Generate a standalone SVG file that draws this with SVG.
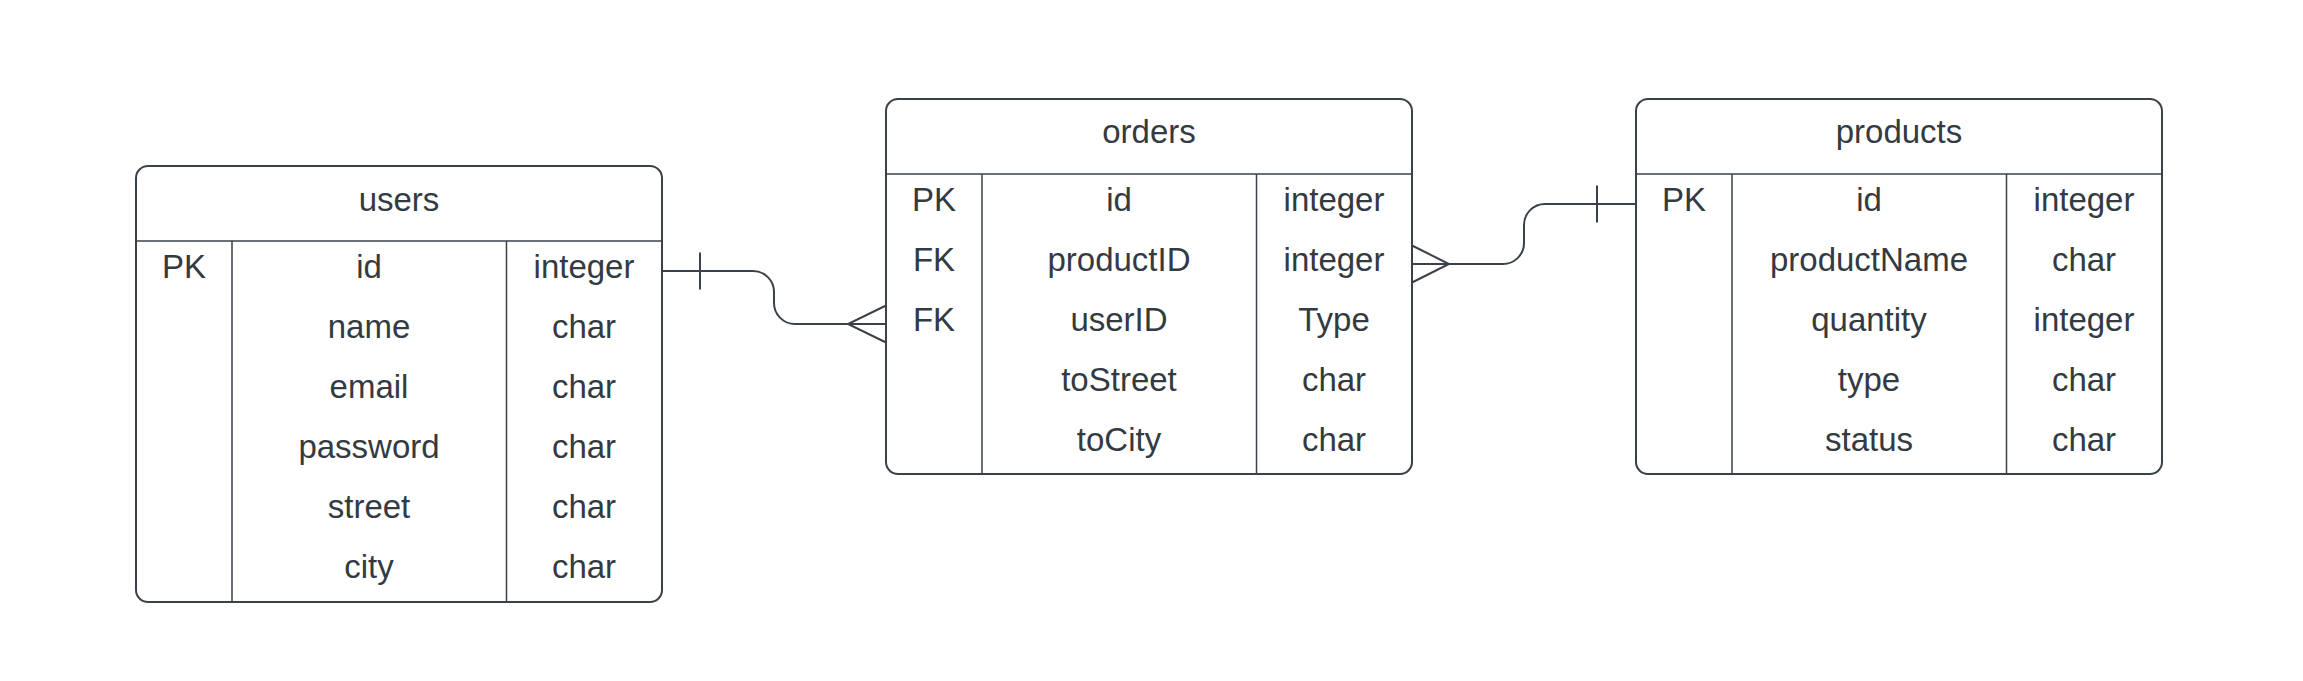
<svg xmlns="http://www.w3.org/2000/svg" width="2303" height="681" viewBox="0 0 2303 681">
<style>
.box{fill:#ffffff;stroke:#3a414a;stroke-width:2}
.div{stroke:#3a414a;stroke-width:1.5;fill:none}
.t{font-family:"Liberation Sans",Arial,sans-serif;font-size:33px;fill:#333a42;text-anchor:middle}
.c{stroke:#3a414a;stroke-width:2;fill:none}
</style>
<rect width="2303" height="681" fill="#ffffff"/>
<g id="users">
<rect class="box" x="136" y="166" width="526" height="436" rx="12"/>
<line class="div" x1="136" y1="241" x2="662" y2="241"/>
<line class="div" x1="232" y1="241" x2="232" y2="602"/>
<line class="div" x1="506.5" y1="241" x2="506.5" y2="602"/>
<text class="t" x="399" y="211">users</text>
<text class="t" x="184" y="278">PK</text>
<text class="t" x="369" y="278">id</text>
<text class="t" x="584" y="278">integer</text>
<text class="t" x="369" y="338">name</text>
<text class="t" x="584" y="338">char</text>
<text class="t" x="369" y="398">email</text>
<text class="t" x="584" y="398">char</text>
<text class="t" x="369" y="458">password</text>
<text class="t" x="584" y="458">char</text>
<text class="t" x="369" y="518">street</text>
<text class="t" x="584" y="518">char</text>
<text class="t" x="369" y="578">city</text>
<text class="t" x="584" y="578">char</text>
</g>
<g id="orders">
<rect class="box" x="886" y="99" width="526" height="375" rx="12"/>
<line class="div" x1="886" y1="174" x2="1412" y2="174"/>
<line class="div" x1="982" y1="174" x2="982" y2="474"/>
<line class="div" x1="1256.5" y1="174" x2="1256.5" y2="474"/>
<text class="t" x="1149" y="143">orders</text>
<text class="t" x="934" y="211">PK</text>
<text class="t" x="1119" y="211">id</text>
<text class="t" x="1334" y="211">integer</text>
<text class="t" x="934" y="271">FK</text>
<text class="t" x="1119" y="271">productID</text>
<text class="t" x="1334" y="271">integer</text>
<text class="t" x="934" y="331">FK</text>
<text class="t" x="1119" y="331">userID</text>
<text class="t" x="1334" y="331">Type</text>
<text class="t" x="1119" y="391">toStreet</text>
<text class="t" x="1334" y="391">char</text>
<text class="t" x="1119" y="451">toCity</text>
<text class="t" x="1334" y="451">char</text>
</g>
<g id="products">
<rect class="box" x="1636" y="99" width="526" height="375" rx="12"/>
<line class="div" x1="1636" y1="174" x2="2162" y2="174"/>
<line class="div" x1="1732" y1="174" x2="1732" y2="474"/>
<line class="div" x1="2006.5" y1="174" x2="2006.5" y2="474"/>
<text class="t" x="1899" y="143">products</text>
<text class="t" x="1684" y="211">PK</text>
<text class="t" x="1869" y="211">id</text>
<text class="t" x="2084" y="211">integer</text>
<text class="t" x="1869" y="271">productName</text>
<text class="t" x="2084" y="271">char</text>
<text class="t" x="1869" y="331">quantity</text>
<text class="t" x="2084" y="331">integer</text>
<text class="t" x="1869" y="391">type</text>
<text class="t" x="2084" y="391">char</text>
<text class="t" x="1869" y="451">status</text>
<text class="t" x="2084" y="451">char</text>
</g>
<g id="connectors">
<path class="c" d="M662,271 H753 A21,21 0 0 1 774,292 V303 A21,21 0 0 0 795,324 H886"/>
<line class="c" x1="700" y1="252.5" x2="700" y2="289.5"/>
<path class="c" d="M886,305.5 L848,324 L886,342.5"/>
<path class="c" d="M1412,264 H1503 A21,21 0 0 0 1524,243 V225 A21,21 0 0 1 1545,204 H1636"/>
<line class="c" x1="1597" y1="185.5" x2="1597" y2="222.5"/>
<path class="c" d="M1412,245.5 L1449,264 L1412,282.5"/>
</g>
</svg>
